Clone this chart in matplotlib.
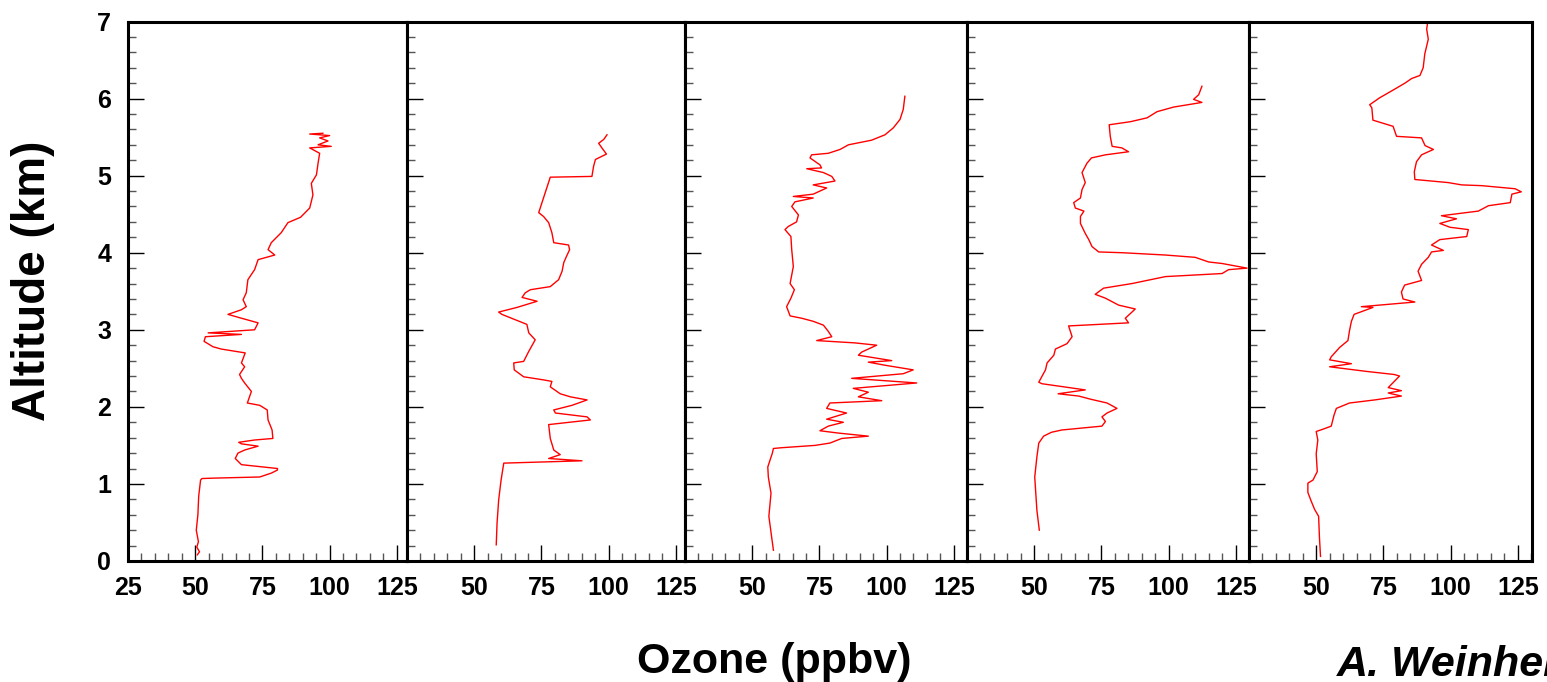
import matplotlib
matplotlib.use("Agg")
import matplotlib.pyplot as plt
from matplotlib.ticker import MultipleLocator, FuncFormatter

plt.rcParams['font.family'] = ['Liberation Sans', 'DejaVu Sans']
plt.rcParams['font.weight'] = 'bold'

# ---------------- data (altitude km, ozone ppbv) ----------------
alt1 = [0.08, 0.12, 0.18, 0.25, 0.40, 0.60, 0.84, 1.05, 1.07, 1.075, 1.09, 1.14, 1.18, 1.20, 1.25, 1.33, 1.40,
        1.44, 1.49, 1.52, 1.54, 1.57, 1.59, 1.70, 1.83, 1.96, 2.02, 2.05, 2.20, 2.31, 2.37, 2.42,
        2.52, 2.57, 2.70, 2.75, 2.78, 2.85, 2.91, 2.94, 2.96, 3.00, 3.09, 3.15, 3.20, 3.26, 3.30,
        3.39, 3.48, 3.65, 3.78, 3.91, 3.97, 4.04, 4.13, 4.26, 4.39, 4.46, 4.58, 4.75, 4.90, 5.01,
        5.16, 5.29, 5.36, 5.38, 5.40, 5.45, 5.49, 5.52, 5.54, 5.55]
oz1 = [50.8, 51.6, 50.6, 51.2, 50.4, 51.0, 51.3, 52.0, 52.5, 56.6, 74.0, 78.3, 80.6, 80.6, 67.2, 64.9, 65.9,
       68.4, 73.4, 67.2, 66.2, 72.1, 78.9, 78.6, 77.1, 76.8, 74.0, 69.4, 70.9, 68.4, 67.2, 66.5,
       68.4, 67.2, 68.6, 59.7, 56.6, 53.3, 53.8, 67.2, 54.8, 72.1, 73.4, 67.2, 62.2, 67.2, 69.0,
       67.8, 69.0, 69.6, 72.1, 73.4, 79.6, 77.1, 78.3, 82.0, 84.5, 89.2, 92.6, 93.8, 93.2, 95.1,
       95.7, 96.3, 92.6, 100.6, 95.7, 99.4, 96.3, 100.0, 92.6, 97.5]

alt2 = [0.21, 0.49, 0.79, 1.05, 1.27, 1.30, 1.33, 1.38, 1.44, 1.59, 1.77, 1.83, 1.87, 1.92, 1.96,
        2.02, 2.09, 2.13, 2.17, 2.26, 2.33, 2.35, 2.39, 2.48, 2.57, 2.59, 2.72, 2.87, 2.96, 3.07,
        3.20, 3.23, 3.29, 3.37, 3.42, 3.48, 3.52, 3.56, 3.65, 3.76, 3.87, 3.95, 4.04, 4.10, 4.13,
        4.26, 4.39, 4.47, 4.52, 4.98, 4.99, 5.12, 5.21, 5.28, 5.36, 5.42, 5.47, 5.53]
oz2 = [58.2, 58.5, 59.1, 60.0, 61.0, 90.1, 77.7, 82.0, 79.6, 78.3, 77.7, 93.2, 92.0, 80.2, 79.6,
       86.4, 92.0, 85.8, 82.0, 78.3, 78.9, 75.8, 68.4, 64.9, 64.7, 68.4, 70.3, 72.7, 70.3, 69.6,
       60.3, 59.1, 65.9, 73.4, 67.8, 69.0, 70.9, 78.3, 81.4, 82.7, 83.3, 84.3, 85.5, 85.1, 79.6,
       78.9, 77.7, 75.8, 74.0, 78.3, 93.8, 94.4, 95.1, 99.2, 97.5, 96.3, 98.2, 99.4]

alt3 = [0.14, 0.32, 0.58, 0.88, 1.09, 1.22, 1.40, 1.46, 1.47, 1.50, 1.53, 1.59, 1.62, 1.66, 1.69,
        1.75, 1.80, 1.84, 1.92, 1.98, 2.05, 2.08, 2.13, 2.19, 2.24, 2.31, 2.37, 2.43, 2.48, 2.54,
        2.58, 2.60, 2.67, 2.71, 2.80, 2.83, 2.86, 2.91, 2.98, 3.06, 3.11, 3.15, 3.18, 3.30, 3.41,
        3.52, 3.60, 3.82, 4.04, 4.21, 4.30, 4.34, 4.40, 4.49, 4.60, 4.66, 4.71, 4.73, 4.76, 4.84,
        4.88, 4.93, 4.99, 5.04, 5.09, 5.10, 5.14, 5.23, 5.27, 5.29, 5.34, 5.40, 5.46, 5.53, 5.62,
        5.73, 5.86, 6.03]
oz3 = [57.9, 57.2, 56.2, 57.0, 56.0, 55.8, 57.5, 57.9, 61.0, 73.4, 78.9, 83.3, 93.2, 82.0, 75.2,
       78.3, 83.9, 77.7, 85.1, 77.7, 78.9, 98.2, 89.5, 93.2, 87.6, 111.2, 87.0, 106.2, 109.9, 99.4,
       93.2, 101.9, 89.5, 90.7, 96.3, 88.2, 74.0, 79.6, 78.3, 76.5, 72.7, 68.4, 64.1, 62.8, 64.4,
       65.7, 64.1, 65.3, 64.7, 64.4, 62.2, 63.4, 66.5, 67.2, 64.7, 65.9, 72.7, 65.3, 72.7, 77.7,
       72.7, 80.8, 79.6, 76.5, 70.3, 75.8, 75.2, 71.5, 72.1, 78.3, 82.7, 85.8, 94.4, 99.4, 102.5,
       105.0, 106.2, 106.8]

alt4 = [0.40, 0.66, 1.09, 1.35, 1.53, 1.62, 1.67, 1.70, 1.75, 1.81, 1.87, 1.92, 1.98, 2.05, 2.10,
        2.14, 2.17, 2.22, 2.30, 2.32, 2.48, 2.57, 2.67, 2.75, 2.82, 2.91, 3.05, 3.09, 3.15, 3.27,
        3.32, 3.41, 3.46, 3.54, 3.60, 3.69, 3.73, 3.78, 3.80, 3.86, 3.88, 3.94, 3.97, 4.00, 4.01,
        4.08, 4.17, 4.25, 4.38, 4.47, 4.54, 4.58, 4.65, 4.71, 4.82, 4.91, 5.04, 5.16, 5.23, 5.27,
        5.31, 5.36, 5.38, 5.51, 5.66, 5.70, 5.75, 5.83, 5.89, 5.95, 5.99, 6.05, 6.16]
oz4 = [51.9, 51.0, 50.2, 51.0, 51.7, 53.5, 56.4, 60.3, 75.2, 76.5, 75.2, 77.1, 80.8, 77.1, 70.9,
       66.6, 58.9, 69.0, 52.9, 51.7, 54.2, 54.8, 57.3, 57.9, 62.2, 64.1, 62.8, 85.1, 83.9, 87.6,
       81.4, 76.5, 72.7, 75.8, 86.4, 98.8, 119.9, 122.3, 129.2, 119.9, 114.9, 109.9, 98.8, 82.7, 74.0,
       71.5, 70.3, 69.0, 67.2, 67.2, 68.5, 65.3, 64.7, 67.2, 67.8, 69.0, 67.8, 69.6, 71.3, 76.5,
       85.1, 82.6, 79.0, 78.3, 77.9, 85.8, 92.0, 95.7, 101.9, 112.4, 109.3, 111.2, 112.4]

alt5 = [0.06, 0.31, 0.58, 0.67, 0.78, 0.89, 1.01, 1.05, 1.16, 1.39, 1.57, 1.68, 1.71, 1.75, 1.89,
        1.98, 2.05, 2.09, 2.14, 2.18, 2.21, 2.25, 2.40, 2.42, 2.46, 2.52, 2.56, 2.61, 2.65, 2.77,
        2.86, 2.99, 3.11, 3.20, 3.29, 3.30, 3.36, 3.40, 3.49, 3.58, 3.64, 3.76, 3.85, 3.94, 4.01,
        4.03, 4.10, 4.17, 4.21, 4.30, 4.33, 4.38, 4.44, 4.48, 4.54, 4.61, 4.65, 4.76, 4.79, 4.83,
        4.87, 4.88, 4.91, 4.95, 5.05, 5.18, 5.27, 5.34, 5.39, 5.49, 5.51, 5.64, 5.72, 5.88, 5.92,
        6.01, 6.11, 6.20, 6.26, 6.30, 6.40, 6.58, 6.77, 6.90, 7.00]
oz5 = [51.6, 51.2, 50.9, 49.4, 48.1, 46.9, 46.9, 48.8, 50.4, 50.0, 50.6, 50.0, 52.5, 55.6, 56.6,
       57.5, 62.4, 71.8, 81.7, 76.8, 81.7, 76.8, 81.0, 79.0, 68.7, 55.0, 63.1, 55.0, 55.6, 58.7,
       61.8, 62.4, 63.1, 64.1, 71.1, 66.8, 86.7, 82.3, 81.7, 82.9, 89.2, 87.9, 89.2, 91.7, 92.9,
       97.3, 92.9, 96.0, 106.0, 106.6, 99.8, 96.0, 102.2, 96.6, 110.3, 114.1, 122.2, 122.8, 126.3, 124.0,
       111.6, 104.1, 99.1, 86.7, 86.5, 87.3, 89.2, 93.6, 90.5, 89.2, 79.9, 78.6, 71.1, 70.7, 69.9,
       73.6, 78.6, 83.0, 85.5, 88.6, 89.8, 90.4, 91.7, 91.1, 91.5]

altitudes = [alt1, alt2, alt3, alt4, alt5]
ozones = [oz1, oz2, oz3, oz4, oz5]

# ---------------- layout (pixels) ----------------
W, H = 1547, 682
fig = plt.figure(figsize=(W / 100, H / 100), dpi=100)
lefts = [128, 407, 685, 967, 1249]
rights = [407, 685, 967, 1249, 1532]
top_px, bot_px = 21.5, 561
px_per_unit = 67.2 / 25.0

for i in range(5):
    l, r = lefts[i], rights[i]
    ax = fig.add_axes([l / W, (H - bot_px) / H, (r - l) / W, (bot_px - top_px) / H])
    ax.plot(ozones[i], altitudes[i], color='#ff0000', lw=1.0)
    ax.set_xlim(25, 25 + (r - l) / px_per_unit)
    ax.set_ylim(0, 7)
    ax.xaxis.set_major_locator(MultipleLocator(25))
    ax.xaxis.set_minor_locator(MultipleLocator(5))
    ax.yaxis.set_major_locator(MultipleLocator(1))
    ax.yaxis.set_minor_locator(MultipleLocator(0.2))
    ax.tick_params(which='both', direction='in', top=False, right=False, left=True, bottom=True)
    ax.tick_params(which='major', length=11.5, width=1.0, color='black')
    ax.tick_params(which='minor', length=5.8, width=1.0, color='#555555')
    ax.tick_params(axis='x', which='major', labelsize=18, pad=11)
    ax.tick_params(axis='y', which='major', labelsize=18, pad=12)
    for sp in ax.spines.values():
        sp.set_linewidth(2.2)
    if i == 0:
        ax.xaxis.set_major_formatter(FuncFormatter(lambda v, p: f"{int(round(v))}"))
        ax.yaxis.set_major_formatter(FuncFormatter(lambda v, p: f"{int(round(v))}"))
    else:
        ax.xaxis.set_major_formatter(FuncFormatter(lambda v, p: "" if round(v) == 25 else f"{int(round(v))}"))
        ax.tick_params(axis='y', labelleft=False)
    for lab in ax.get_xticklabels() + ax.get_yticklabels():
        lab.set_fontweight('bold')

fig.text(33 / W, 1 - 281 / H, "Altitude (km)", rotation=90, ha='center', va='center',
         fontsize=33, fontweight='bold')
fig.text(774 / W, 1 - 673 / H, "Ozone (ppbv)", ha='center', va='baseline',
         fontsize=31, fontweight='bold')
fig.text(1337 / W, 1 - 676 / H, "A. Weinheimer", ha='left', va='baseline',
         fontsize=31, fontweight='bold', style='italic')

fig.savefig("out.png", dpi=100)
